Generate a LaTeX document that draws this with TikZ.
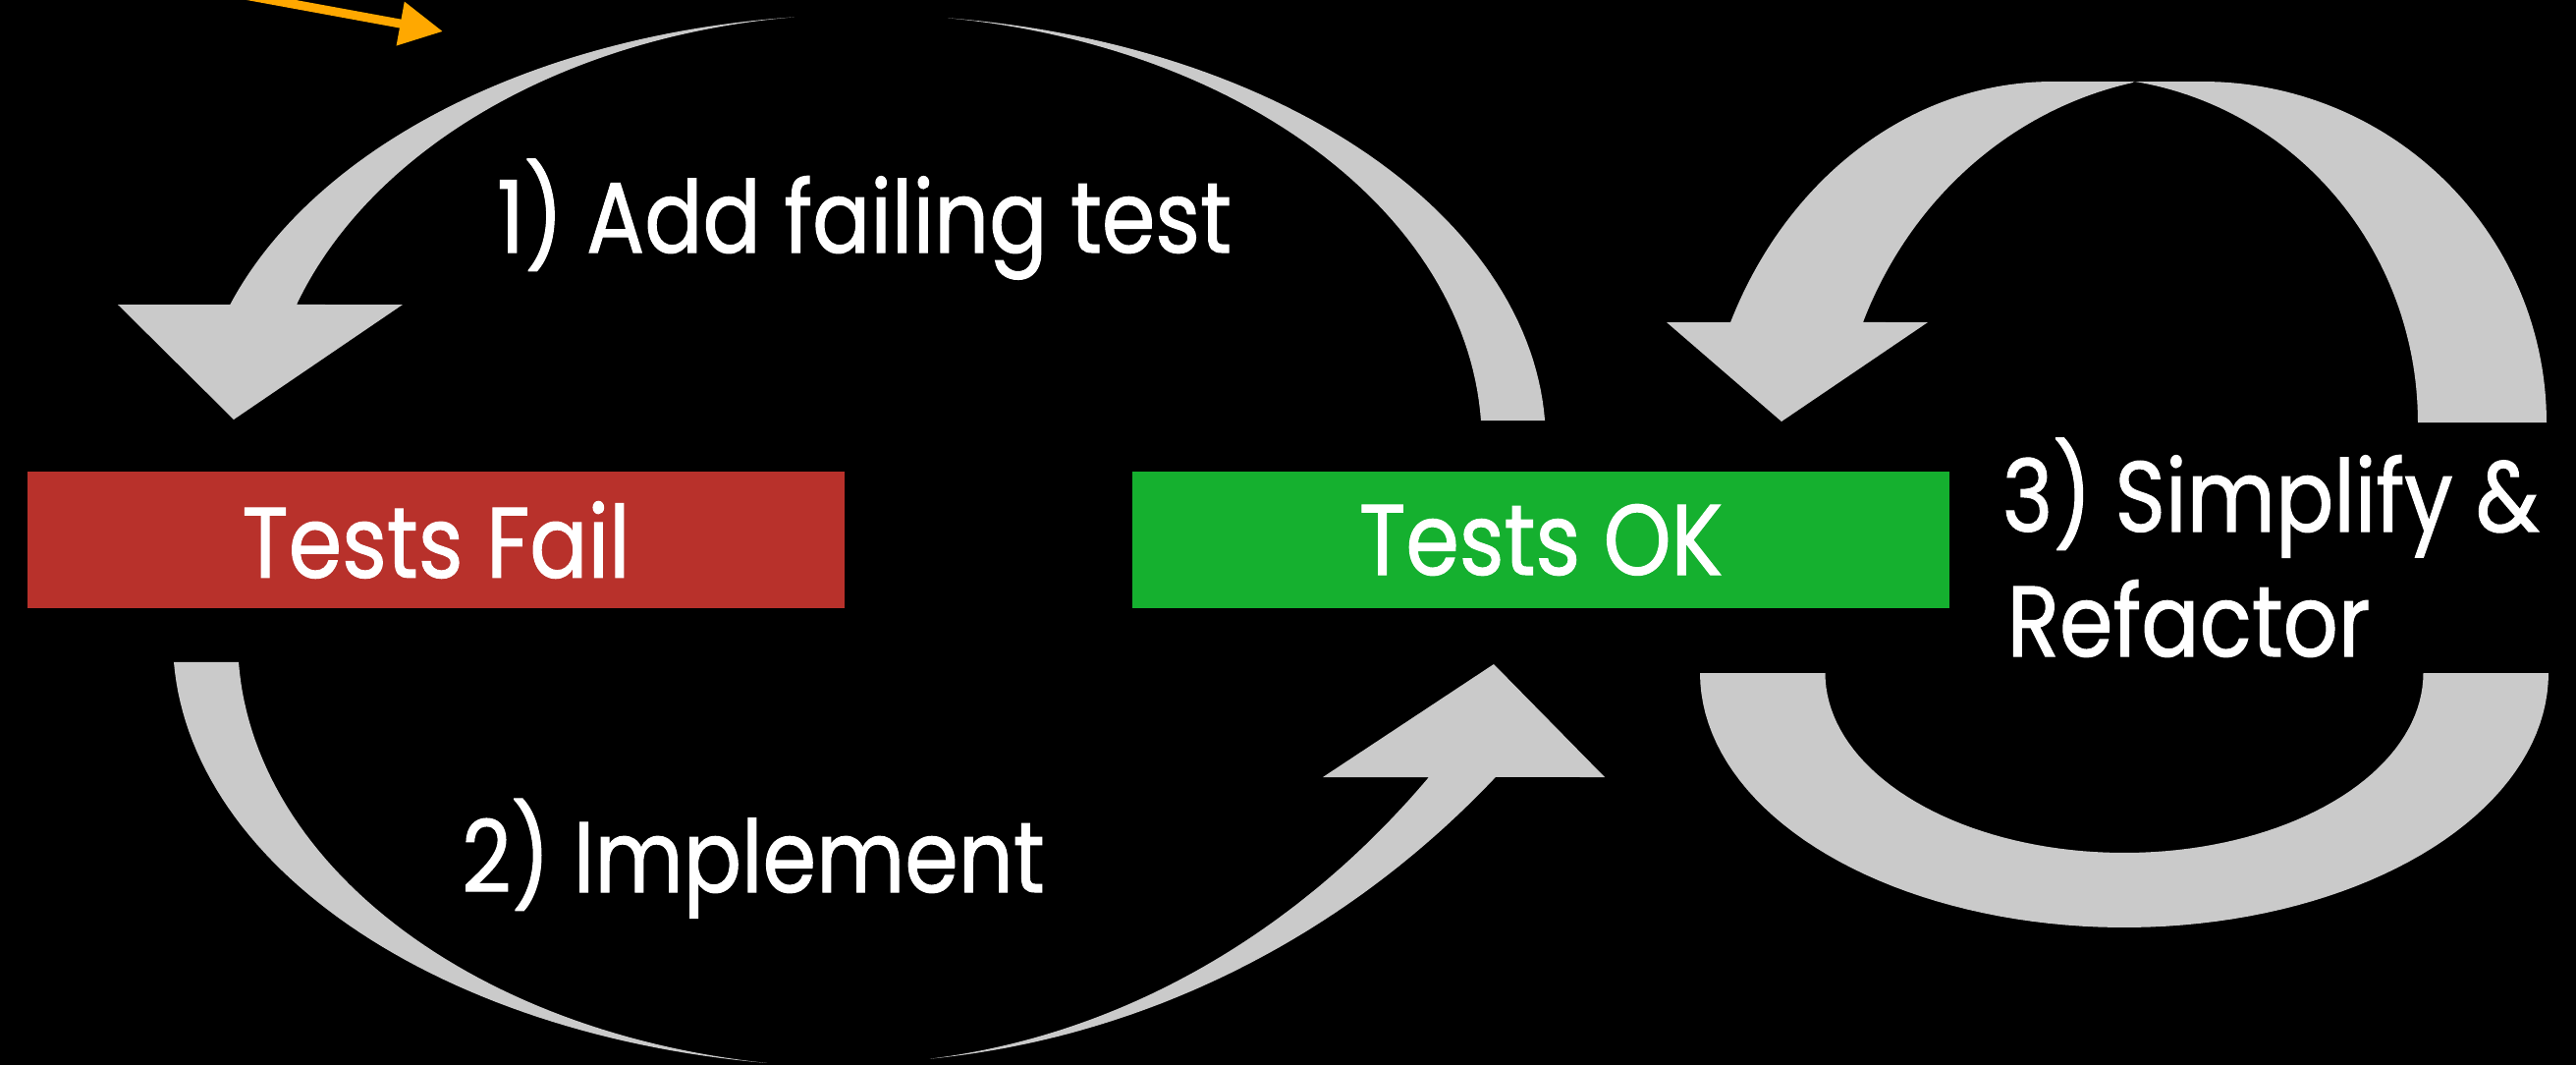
\documentclass[tikz,border=0pt]{standalone}
\usepackage{fontspec}
\newfontfamily\slidefont{Poppins}[FakeStretch=0.86,FakeBold=1]
\usetikzlibrary{positioning,arrows.meta}
\definecolor{failred}{RGB}{184,49,43}
\definecolor{okgreen}{RGB}{21,176,47}
\definecolor{arrowgrey}{RGB}{202,202,202}
\definecolor{pointer}{RGB}{255,168,0}

\begin{document}
\begin{tikzpicture}[
  x=0.01cm, y=-0.01cm,
  txt/.style={text=white,inner sep=0pt,font=\slidefont\fontsize{29}{35}\selectfont},
  box/.style={txt,minimum width=8.32cm,minimum height=1.39cm},
  band/.style={fill=arrowgrey},
  hint/.style={draw=pointer,line width=0.09cm,-{Triangle[length=0.44cm,width=0.43cm]}},
]
  \useasboundingbox (0,0) rectangle (2623,1084);
  \clip (0,0) rectangle (2623,1084);
  \fill[black] (0,0) rectangle (2623,1084);

  \node[box,fill=failred] (fail) at (444,549.5) {Tests Fail};
  \node[box,fill=okgreen,right=2.91cm of fail] (ok) {Tests OK};

  \node[txt,anchor=base] (add) at (880,257) {1) Add failing test};
  \node[txt,anchor=base] (impl) at (767,908) {2) Implement};
  \node[txt,anchor=base west] (simp) at (2038,541) {3) Simplify \&};
  \node[txt,anchor=base west] (refac) at (2043,668) {Refactor};

  % left loop: top-left piece with head on Tests Fail
  \fill[band] plot[domain=198.77:264.02,samples=60,variable=\t] ({880+682*cos(\t)},{450+435*sin(\t)})
    -- plot[domain=263.32:198.75,samples=60,variable=\t] ({880+610.4*cos(\t)},{450+435.6*sin(\t)})
    -- (410,310) -- (238,427) -- (120,310) -- cycle;
  % top-right piece, tail on Tests OK
  \fill[band] plot[domain=277.04:357.1,samples=60,variable=\t] ({880+694*cos(\t)},{450+435*sin(\t)})
    -- plot[domain=357.11:277.77,samples=60,variable=\t] ({880+628.8*cos(\t)},{450+435.7*sin(\t)}) -- cycle;
  % bottom-left piece, tail under Tests Fail
  \fill[band] plot[domain=97.8:176.97,samples=60,variable=\t] ({876+700*cos(\t)},{651+435*sin(\t)})
    -- plot[domain=176.98:98.62,samples=60,variable=\t] ({876+633.9*cos(\t)},{651+435.9*sin(\t)}) -- cycle;
  % bottom-right piece with head on Tests OK
  \fill[band] plot[domain=84.69:45.15,samples=60,variable=\t] ({860+940*cos(\t)},{82+1000*sin(\t)})
    -- (1634,791) -- (1521,676) -- (1347,791)
    -- plot[domain=45.10:84.07,samples=60,variable=\t] ({860+842.8*cos(\t)},{82+1001*sin(\t)}) -- cycle;

  % right loop: upper arch with head back on Tests OK
  \fill[band] plot[domain=204.36:270,samples=60,variable=\t] ({2090+360*cos(\t)},{500+417*sin(\t)})
    -- plot[domain=270:360,samples=60,variable=\t] ({2243+350*cos(\t)},{430+347*sin(\t)})
    -- plot[domain=360:278.89,samples=60,variable=\t] ({2119+343*cos(\t)},{430+351.5*sin(\t)})
    -- plot[domain=258.18:202.07,samples=60,variable=\t] ({2250+380.9*cos(\t)},{480+404.6*sin(\t)})
    -- (1963,328) -- (1814,429) -- (1697,328) -- cycle;
  % lower U
  \fill[band] plot[domain=180:0,samples=80,variable=\t] ({2163+432*cos(\t)},{685+259*sin(\t)})
    -- plot[domain=0:180,samples=80,variable=\t] ({2163+304.5*cos(\t)},{685+183*sin(\t)}) -- cycle;

  % pointer into the gap
  \coordinate (hfrom) at (156,-22);
  \coordinate (hto) at (451,32);
  \draw[hint] (hfrom) -- (hto);
\end{tikzpicture}
\end{document}
